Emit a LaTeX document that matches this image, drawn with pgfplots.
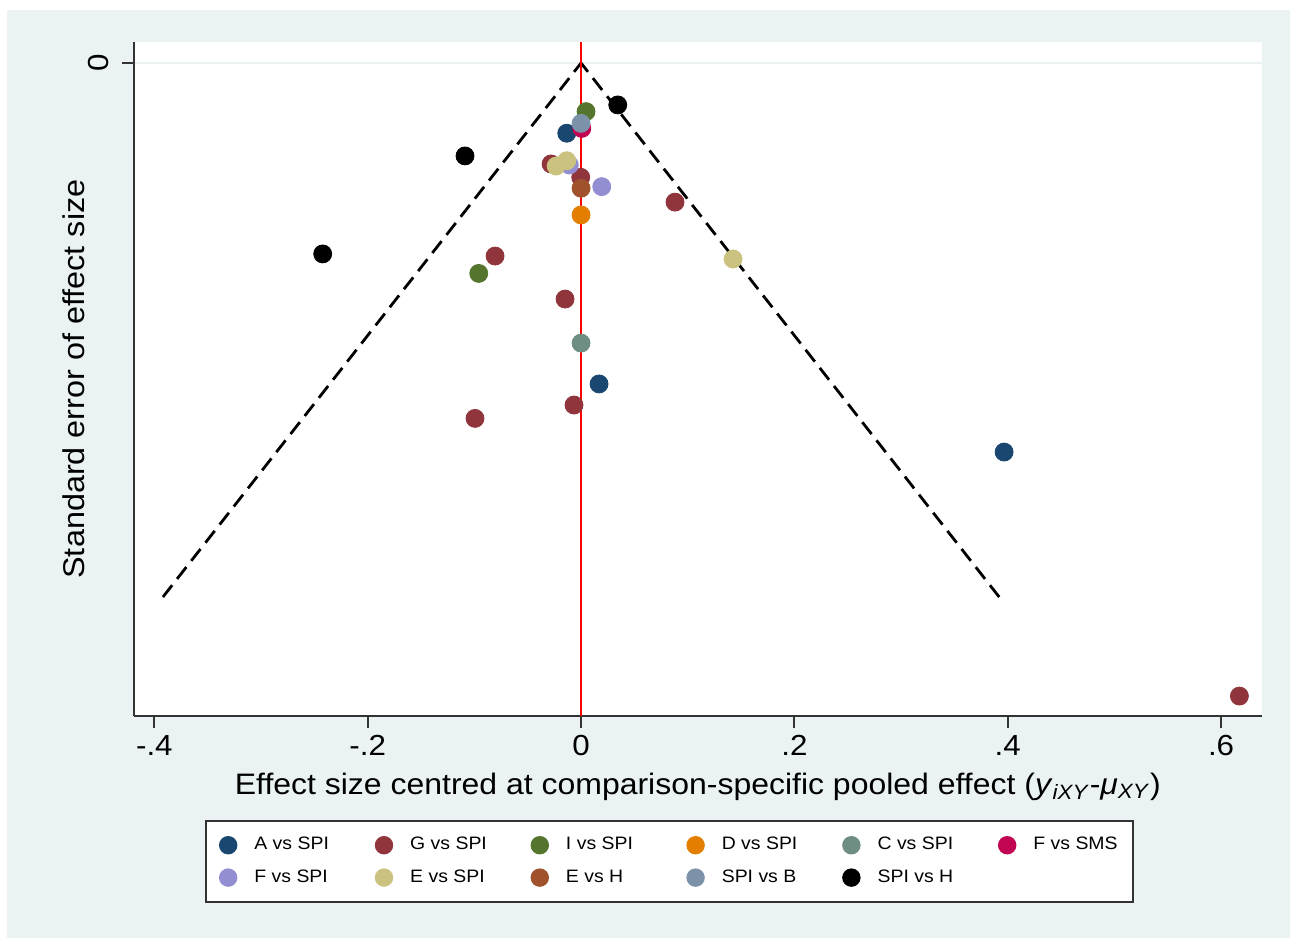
\documentclass[border=0pt]{standalone}
\usepackage{pgfplots}
\pgfplotsset{compat=1.18}
\usepackage{fontspec}
\setmainfont{Liberation Sans}[FakeStretch=1.08]
\definecolor{bgc}{RGB}{234,242,243}
\definecolor{stnavy}{RGB}{26,71,111}
\definecolor{stmaroon}{RGB}{144,53,59}
\definecolor{stgreen}{RGB}{85,117,47}
\definecolor{storange}{RGB}{227,126,0}
\definecolor{stteal}{RGB}{110,142,132}
\definecolor{stcran}{RGB}{193,5,82}
\definecolor{stlav}{RGB}{147,141,210}
\definecolor{stkhaki}{RGB}{202,194,126}
\definecolor{stsienna}{RGB}{160,82,45}
\definecolor{stblue}{RGB}{123,146,168}
\pgfplotsset{mk/.style={only marks, mark=*, mark size=4.5pt, color=#1, fill=#1}}
\newcommand{\legtxt}[1]{\makebox[43pt][l]{#1}}
\begin{document}
\begin{tikzpicture}
\fill[white] (-67pt,-111pt) rectangle (578pt,358pt);
\fill[bgc] (-63.5pt,-111pt) rectangle (578pt,353pt);
\begin{axis}[
  at={(0pt,0pt)}, anchor=south west,
  scale only axis, width=563.85pt, height=337pt,
  xmin=-0.4191, xmax=0.6381, ymin=-0.00787, ymax=0.24457,
  y dir=reverse,
  axis x line*=bottom, axis y line*=left,
  axis line style={black!80, line width=1pt, -},
  axis background/.style={fill=white},
  xtick={-0.4,-0.2,0,0.2,0.4,0.6},
  xticklabels={-.4,-.2,0,.2,.4,.6},
  ytick={0}, yticklabels={0},
  tick align=outside, major tick length=6pt,
  tick style={black!80, line width=1pt},
  ymajorgrids, grid style={bgc, line width=1pt},
  ticklabel style={font=\fontsize{14.5}{17}\selectfont},
  yticklabel style={rotate=90, anchor=south},
  yticklabel shift=3pt,
  label style={font=\fontsize{15}{18}\selectfont},
  xlabel={Effect size centred at comparison-specific pooled effect (\textit{y}\textsubscript{\textit{iXY}}-\textit{μ}\textsubscript{\textit{XY}})},
  ylabel={Standard error of effect size},
  xlabel style={at={(axis description cs:0.5,-0.1157)}, anchor=base, inner sep=0pt, font=\fontsize{14.8}{18}\selectfont},
  ylabel style={at={(axis description cs:-0.04345,0.5)}, anchor=base, inner sep=0pt},
  legend columns=6,
  legend image code/.code={\draw[#1, mark size=4.1pt] plot coordinates {(0pt,0pt)};},
  legend style={at={(0.06296,-0.1543)}, anchor=north west, draw=black!80, line width=1pt, fill=white,
    font=\fontsize{9}{11}\selectfont, inner xsep=7pt, inner ysep=8pt, row sep=8pt,
    nodes={inner sep=0pt},
    /tikz/every odd column/.style={column sep=9pt},
    /tikz/every even column/.style={column sep=17.7pt}},
]
\addplot[forget plot, black, line width=1.4pt, dash pattern=on 7.5pt off 4pt] coordinates {(-0.392,0.2) (0,0)};
\addplot[forget plot, black, line width=1.4pt, dash pattern=on 7.5pt off 4pt] coordinates {(0.392,0.2) (0,0)};
\addplot[forget plot, red, line width=1pt] coordinates {(0,-0.00787) (0,0.24457)};
\addplot[mk=stnavy] coordinates {(-0.0134,0.0263) (0.0169,0.1202) (0.3966,0.1457)};
\addlegendentry{\legtxt{A vs SPI}}
\addplot[mk=stmaroon] coordinates {(-0.0281,0.0378) (-0.0003,0.0428) (0.0881,0.0521) (-0.0806,0.0723) (-0.0150,0.0884) (-0.0066,0.1281) (-0.0994,0.1331) (0.6172,0.2371)};
\addlegendentry{\legtxt{G vs SPI}}
\addplot[mk=stgreen] coordinates {(0.0047,0.0182) (-0.0959,0.0788)};
\addlegendentry{\legtxt{I vs SPI}}
\addplot[mk=storange] coordinates {(0,0.0569)};
\addlegendentry{\legtxt{D vs SPI}}
\addplot[mk=stteal] coordinates {(0,0.1049)};
\addlegendentry{\legtxt{C vs SPI}}
\addplot[mk=stcran] coordinates {(0.0007,0.0245)};
\addlegendentry{\legtxt{F vs SMS}}
\addplot[mk=stlav] coordinates {(-0.011,0.0382) (0.0194,0.0463)};
\addlegendentry{\legtxt{F vs SPI}}
\addplot[mk=stkhaki] coordinates {(-0.0234,0.0386) (-0.0134,0.0366) (0.1425,0.0734)};
\addlegendentry{\legtxt{E vs SPI}}
\addplot[mk=stsienna] coordinates {(0,0.0469)};
\addlegendentry{\legtxt{E vs H}}
\addplot[mk=stblue] coordinates {(0,0.0226)};
\addlegendentry{\legtxt{SPI vs B}}
\addplot[mk=black] coordinates {(0.0344,0.0157) (-0.1088,0.0348) (-0.2422,0.0715)};
\addlegendentry{\legtxt{SPI vs H}}
\end{axis}
\end{tikzpicture}
\end{document}
